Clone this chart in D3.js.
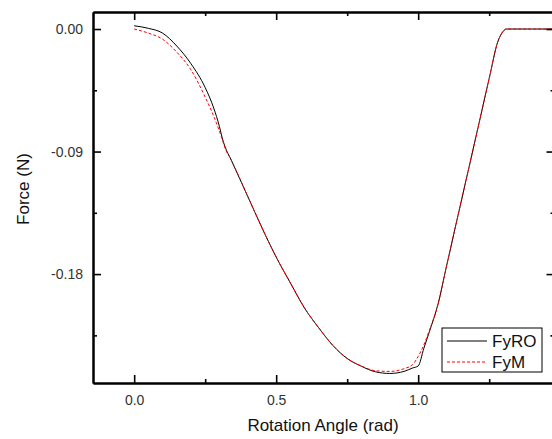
<!DOCTYPE html>
<html>
<head>
<meta charset="utf-8">
<script src="https://cdn.jsdelivr.net/npm/d3@7"></script>
<style>
  body { margin: 0; background: #fff; }
  svg { display: block; font-family: "Liberation Sans", Arial, sans-serif; }
</style>
</head>
<body>
<svg id="chart"></svg>
<script>
// rotation angle (rad)
var angle = [0, 0.05, 0.1, 0.15, 0.2, 0.25, 0.28, 0.3, 0.31, 0.32, 0.34, 0.4, 0.45, 0.5, 0.55, 0.6, 0.65, 0.7, 0.75, 0.8, 0.85, 0.9, 0.95, 0.98, 1.0, 1.02, 1.04, 1.07, 1.1, 1.15, 1.2, 1.25, 1.28, 1.3, 1.31, 1.4, 1.48];
var fyro = [0.0024, 0.0005, -0.003, -0.0125, -0.0255, -0.043, -0.058, -0.0715, -0.080, -0.0865, -0.0955, -0.123, -0.146, -0.1675, -0.1865, -0.205, -0.2195, -0.2325, -0.242, -0.2477, -0.2518, -0.253, -0.2515, -0.249, -0.2475, -0.2345, -0.222, -0.202, -0.174, -0.128, -0.0823, -0.0363, -0.0096, -0.0015, 0, 0, 0];
var fym = [0, -0.003, -0.0075, -0.017, -0.030, -0.050, -0.064, -0.075, -0.081, -0.0875, -0.0955, -0.123, -0.146, -0.1675, -0.1865, -0.205, -0.2195, -0.2325, -0.242, -0.2475, -0.251, -0.2515, -0.2495, -0.2465, -0.2405, -0.232, -0.221, -0.202, -0.174, -0.128, -0.0823, -0.0363, -0.0096, -0.0015, 0, 0, 0];

var xMajor = [0, 0.5, 1.0];
var xMinor = [0.25, 0.75, 1.25];
var yMajor = [0, -0.09, -0.18];
var yMinor = [-0.045, -0.135, -0.225];
var xLabels = ["0.0", "0.5", "1.0"];
var yLabels = ["0.00", "-0.09", "-0.18"];
var series = [
  { name: "FyRO", values: fyro, color: "#000", dash: null },
  { name: "FyM", values: fym, color: "#ff0000", dash: "3,2" }
];

var width = 552, height = 439;
var plotL = 93, plotR = 554.5, plotT = 12, plotB = 383;

var svg = d3.select("#chart")
  .attr("width", width)
  .attr("height", height);

var x = d3.scaleLinear().domain([-0.145, 1.48]).range([plotL, plotR]);
var y = d3.scaleLinear().domain([-0.26, 0.0125]).range([plotB, plotT]);

// curves
var line = d3.line()
  .x(function(d, i) { return x(angle[i]); })
  .y(function(d) { return y(d); })
  .curve(d3.curveMonotoneX);

series.forEach(function(s) {
  svg.append("path")
    .attr("d", line(s.values))
    .attr("fill", "none")
    .attr("stroke", s.color)
    .attr("stroke-width", 1)
    .attr("stroke-dasharray", s.dash);
});

// axes: ticks pointing inward on all four sides
function addAxis(axis, tx, ty) {
  var g = svg.append("g").attr("transform", "translate(" + tx + "," + ty + ")").call(axis);
  g.select(".domain").attr("stroke-width", 2);
  g.selectAll(".tick line").attr("stroke-width", 1.6);
  return g;
}

var fmtX = function(d, i) { return xLabels[i]; };
var fmtY = function(d, i) { return yLabels[i]; };

var gb = addAxis(d3.axisBottom(x).tickValues(xMajor).tickSizeInner(-8).tickSizeOuter(0).tickFormat(fmtX).tickPadding(12), 0, plotB);
addAxis(d3.axisBottom(x).tickValues(xMinor).tickSizeInner(-4).tickSizeOuter(0).tickFormat(""), 0, plotB);
addAxis(d3.axisTop(x).tickValues(xMajor).tickSizeInner(-8).tickSizeOuter(0).tickFormat(""), 0, plotT);
addAxis(d3.axisTop(x).tickValues(xMinor).tickSizeInner(-4).tickSizeOuter(0).tickFormat(""), 0, plotT);

var gl = addAxis(d3.axisLeft(y).tickValues(yMajor).tickSizeInner(-8).tickSizeOuter(0).tickFormat(fmtY).tickPadding(10), plotL, 0);
addAxis(d3.axisLeft(y).tickValues(yMinor).tickSizeInner(-4).tickSizeOuter(0).tickFormat(""), plotL, 0);
addAxis(d3.axisRight(y).tickValues(yMajor).tickSizeInner(-8).tickSizeOuter(0).tickFormat(""), plotR, 0);
addAxis(d3.axisRight(y).tickValues(yMinor).tickSizeInner(-4).tickSizeOuter(0).tickFormat(""), plotR, 0);

gb.selectAll("text").attr("font-size", 14).attr("fill", "#333").attr("font-family", "Liberation Sans, Arial, sans-serif");
gl.selectAll("text").attr("font-size", 14).attr("fill", "#333").attr("font-family", "Liberation Sans, Arial, sans-serif");

// axis titles
svg.append("text")
  .attr("x", 323)
  .attr("y", 431)
  .attr("text-anchor", "middle")
  .attr("font-size", 17)
  .attr("fill", "#111")
  .text("Rotation Angle (rad)");

svg.append("text")
  .attr("transform", "translate(29,189) rotate(-90)")
  .attr("text-anchor", "middle")
  .attr("font-size", 17)
  .attr("fill", "#111")
  .text("Force (N)");

// legend
var lg = svg.append("g").attr("transform", "translate(442,328)");
lg.append("rect")
  .attr("width", 100)
  .attr("height", 44)
  .attr("fill", "#fff")
  .attr("stroke", "#000")
  .attr("stroke-width", 1);
series.forEach(function(s, i) {
  var yy = 13 + i * 21;
  lg.append("line")
    .attr("x1", 5).attr("x2", 45)
    .attr("y1", yy).attr("y2", yy)
    .attr("stroke", s.color)
    .attr("stroke-width", 1)
    .attr("stroke-dasharray", s.dash);
  lg.append("text")
    .attr("x", 50)
    .attr("y", yy + 6)
    .attr("font-size", 17)
    .attr("fill", "#111")
    .text(s.name);
});
</script>
</body>
</html>
